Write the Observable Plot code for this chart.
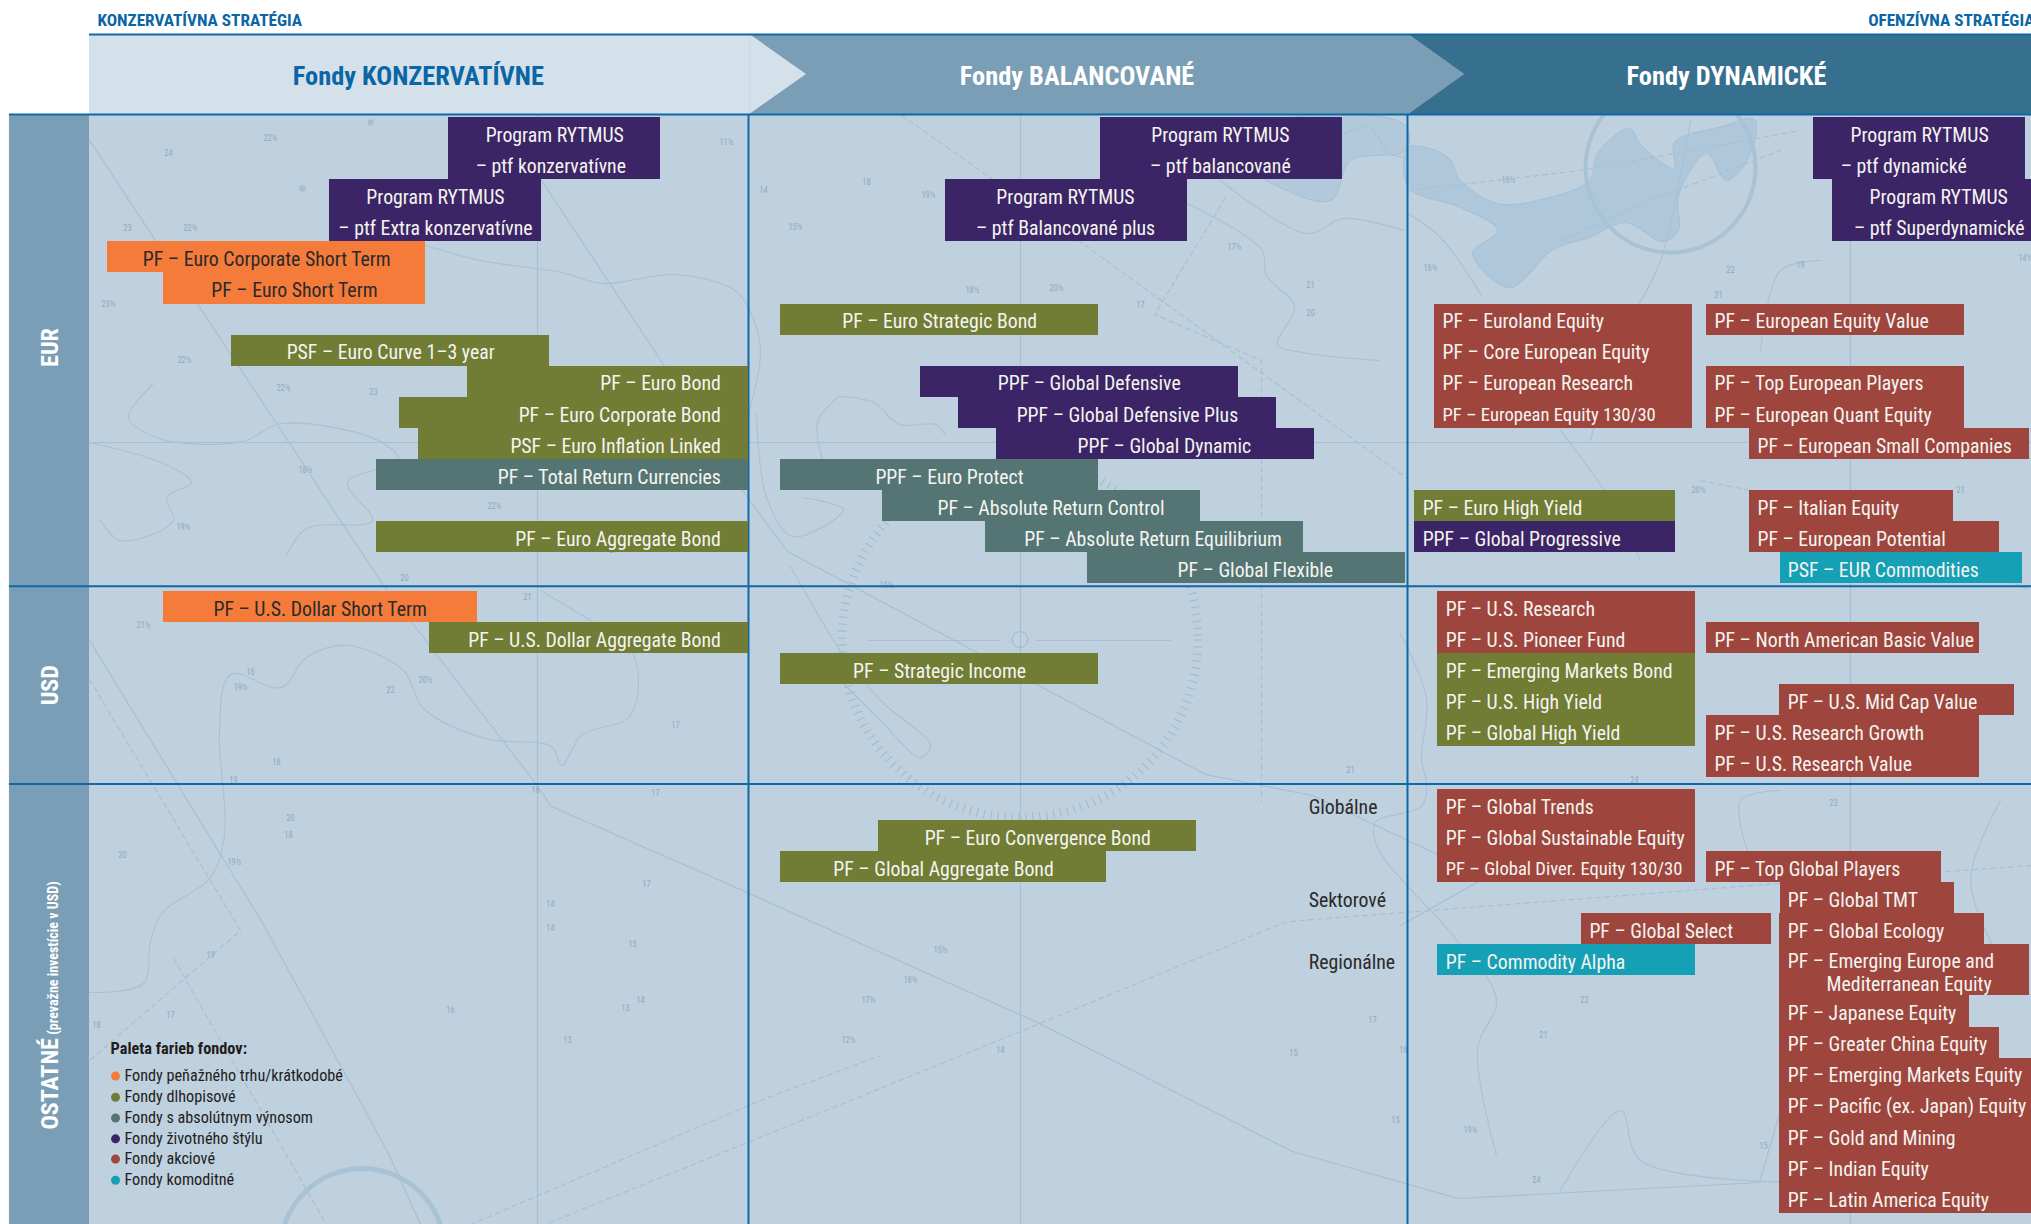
<!DOCTYPE html>
<html lang="sk">
<head>
<meta charset="utf-8">
<title>Fondy</title>
<script src="https://cdn.jsdelivr.net/npm/d3@7"></script>
<script src="https://cdn.jsdelivr.net/npm/@observablehq/plot@0.6"></script>
<style>
html,body{margin:0;padding:0;background:#fff;overflow:hidden}
svg{display:block}
</style>
</head>
<body>
<div id="chart"></div>
<script>
// Fund types and palette
const fundTypes = ["Fondy peňažného trhu/krátkodobé","Fondy dlhopisové","Fondy s absolútnym výnosom","Fondy životného štýlu","Fondy akciové","Fondy komoditné"];
const fundColors = ["#f47b3a","#717c35","#557574","#3c2566","#9e463e","#16a0b5"];
const [MM,BD,AR,LS,EQ,CO] = fundTypes;

// Risk axis: 0-100 conservative, 100-200 balanced, 200-300 dynamic.
// Bars: [type, from, to, first row, rows]
const eurBars = [
 [LS,54.5,86.6,0,2],[LS,36.4,68.6,2,2],[MM,2.7,51.0,4,1],[MM,11.2,51.0,5,1],
 [BD,21.5,69.8,7,1],[BD,57.4,100,8,1],[BD,47.0,100,9,1],[BD,49.9,100,10,1],[AR,43.6,100,11,1],[BD,43.6,100,13,1],
 [LS,153.4,190.1,0,2],[LS,129.9,166.6,2,2],[BD,104.9,153.1,6,1],[LS,126.1,174.4,8,1],[LS,131.9,180.1,9,1],[LS,137.6,185.9,10,1],
 [AR,104.9,153.1,11,1],[AR,120.3,168.6,12,1],[AR,136.0,184.2,13,1],[AR,151.4,199.7,14,1],
 [LS,261.6,293.8,0,2],[LS,264.5,294.7,2,2],[EQ,204.1,243.3,6,4],[EQ,245.4,284.5,6,1],[EQ,245.4,284.5,8,2],[EQ,251.9,294.4,10,1],
 [BD,201.1,240.7,12,1],[LS,201.1,240.7,13,1],[EQ,251.9,282.9,12,1],[EQ,251.9,289.8,13,1],[CO,256.6,293.3,14,1]
];
const usdBars = [
 [MM,11.2,58.9,0,1],[BD,51.6,100,1,1],[BD,104.9,153.1,2,1],
 [EQ,204.6,243.7,0,2],[BD,204.6,243.7,2,3],[EQ,245.4,286.8,1,1],[EQ,256.4,292.1,3,1],[EQ,245.4,286.8,4,2]
];
const otherBars = [
 [BD,119.7,168.0,1,1],[BD,104.9,154.3,2,1],
 [EQ,204.6,243.7,0,3],[EQ,245.4,281.0,2,1],[EQ,256.6,283.0,3,1],[EQ,256.4,287.6,4,1],[EQ,226.4,255.2,4,1],[CO,204.6,243.7,5,1],
 [EQ,256.4,294.4,5,1.65],[EQ,256.4,285.3,6.65,1],[EQ,256.4,289.8,7.65,1],[EQ,256.4,294.7,8.65,5]
];
// Labels: [text, anchor position, row (centre), alignment, dark?]
const eurLabels = [
 ["Program RYTMUS",70.6,.5,"middle"],["– ptf konzervatívne",70,1.5,"middle"],
 ["Program RYTMUS",52.5,2.5,"middle"],["– ptf Extra konzervatívne",52.5,3.5,"middle"],
 ["PF – Euro Corporate Short Term",26.9,4.5,"middle",1],["PF – Euro Short Term",31.1,5.5,"middle",1],
 ["PSF – Euro Curve 1–3 year",45.7,7.5,"middle"],["PF – Euro Bond",95.8,8.5,"end"],["PF – Euro Corporate Bond",95.8,9.5,"end"],
 ["PSF – Euro Inflation Linked",95.8,10.5,"end"],["PF – Total Return Currencies",95.8,11.5,"end"],["PF – Euro Aggregate Bond",95.8,13.5,"end"],
 ["Program RYTMUS",171.6,.5,"middle"],["– ptf balancované",171.6,1.5,"middle"],
 ["Program RYTMUS",148.1,2.5,"middle"],["– ptf Balancované plus",148.1,3.5,"middle"],
 ["PF – Euro Strategic Bond",129,6.5,"middle"],["PPF – Global Defensive",151.7,8.5,"middle"],["PPF – Global Defensive Plus",157.5,9.5,"middle"],
 ["PPF – Global Dynamic",163.1,10.5,"middle"],["PPF – Euro Protect",130.5,11.5,"middle"],["PF – Absolute Return Control",145.9,12.5,"middle"],
 ["PF – Absolute Return Equilibrium",161.4,13.5,"middle"],["PF – Global Flexible",176.9,14.5,"middle"],
 ["Program RYTMUS",277.7,.5,"middle"],["– ptf dynamické",275.3,1.5,"middle"],["Program RYTMUS",280.6,2.5,"middle"],["– ptf Superdynamické",280.7,3.5,"middle"],
 ["PF – Euroland Equity",205.3,6.5,"start"],["PF – Core European Equity",205.3,7.5,"start"],["PF – European Research",205.3,8.5,"start"],["PF – European Equity 130/30",205.3,9.5,"start",0,18.6],
 ["PF – European Equity Value",246.6,6.5,"start"],["PF – Top European Players",246.6,8.5,"start"],["PF – European Quant Equity",246.6,9.5,"start"],
 ["PF – European Small Companies",253.1,10.5,"start"],["PF – Euro High Yield",202.3,12.5,"start"],["PPF – Global Progressive",202.3,13.5,"start"],
 ["PF – Italian Equity",253.1,12.5,"start"],["PF – European Potential",253.1,13.5,"start"],["PSF – EUR Commodities",257.7,14.5,"start"]
];
const usdLabels = [
 ["PF – U.S. Dollar Short Term",35,.5,"middle",1],["PF – U.S. Dollar Aggregate Bond",95.8,1.5,"end"],["PF – Strategic Income",129,2.5,"middle"],
 ["PF – U.S. Research",205.8,.5,"start"],["PF – U.S. Pioneer Fund",205.8,1.5,"start"],["PF – Emerging Markets Bond",205.8,2.5,"start"],["PF – U.S. High Yield",205.8,3.5,"start"],["PF – Global High Yield",205.8,4.5,"start"],
 ["PF – North American Basic Value",246.6,1.5,"start"],["PF – U.S. Mid Cap Value",257.7,3.5,"start"],["PF – U.S. Research Growth",246.6,4.5,"start"],["PF – U.S. Research Value",246.6,5.5,"start"]
];
const otherLabels = [
 ["PF – Euro Convergence Bond",143.9,1.5,"middle"],["PF – Global Aggregate Bond",129.6,2.5,"middle"],
 ["PF – Global Trends",205.8,.5,"start"],["PF – Global Sustainable Equity",205.8,1.5,"start"],["PF – Global Diver. Equity 130/30",205.8,2.5,"start",0,18.6],["PF – Commodity Alpha",205.8,5.5,"start"],
 ["PF – Top Global Players",246.6,2.5,"start"],["PF – Global Select",227.6,4.5,"start"],
 ["PF – Global TMT",257.7,3.5,"start"],["PF – Global Ecology",257.7,4.5,"start"],["PF – Emerging Europe and",257.7,5.48,"start"],["Mediterranean Equity",263.6,6.2,"start"],
 ["PF – Japanese Equity",257.7,7.15,"start"],["PF – Greater China Equity",257.7,8.15,"start"],["PF – Emerging Markets Equity",257.7,9.15,"start"],["PF – Pacific (ex. Japan) Equity",257.7,10.15,"start"],
 ["PF – Gold and Mining",257.7,11.15,"start"],["PF – Indian Equity",257.7,12.15,"start"],["PF – Latin America Equity",257.7,13.15,"start"]
];
const regionRows = [["EUR",0],["USD",15.25],["OTHER",21.62]];
const regionStart = Object.fromEntries(regionRows);
const regionNames = [["EUR",7.4],["USD",18.27]];
const subLabels = [["Globálne",22.2],["Sektorové",25.2],["Regionálne",27.2]];
const columnHeads = [["Fondy KONZERVATÍVNE",49.9,"#0b66a5"],["Fondy BALANCOVANÉ",149.85,"#ffffff"],["Fondy DYNAMICKÉ",248.4,"#ffffff"]];
const legendTitle = "Paleta farieb fondov:";
const legendRows = [30.85,31.53,32.2,32.87,33.52,34.2];

// Base-map details (picture coordinates, converted to chart units for the scales)
const shallows = [[1408,147],[1448,157],[1460,180],[1497,203],[1541,199],[1589,180],[1597,153],[1629,128],[1641,145],[1674,168],[1674,142],[1722,126],[1754,119],[1750,153],[1726,180],[1706,153],[1678,195],[1678,230],[1662,241],[1625,222],[1589,237],[1553,249],[1509,287],[1472,253],[1497,230],[1460,207],[1408,187]];
const shallows2 = [[1266,180],[1330,200],[1350,160],[1405,150],[1405,125],[1290,118],[1240,160]];
const routes = [
 [[89,140],[383,585],[536,784],[551,806],[724,882],[1037,1022],[1292,1151],[1458,1198],[1759,1182],[1780,1110]],
 [[541,180],[663,364],[747,497],[787,551],[1205,774],[1312,795],[1437,854]],
 [[89,640],[263,924],[388,1153],[420,1224]],
 [[1554,790],[1480,880],[1400,925]],
 [[537,114],[537,1224]],[[1020,114],[1020,1224]],[[89,442],[2031,442]],[[1850,114],[1850,1224]],
 [[868,640],[1000,640]],[[1035,640],[1170,640]]
];
const dashed = [
 [[2031,865],[1766,884],[1300,920],[1284,922],[1037,1024],[700,1161],[520,1234]],
 [[89,679],[240,930],[89,1060]],[[173,958],[326,1224]],
 [[901,115],[991,178],[1085,245],[1407,478]],[[1225,197],[1154,314],[1261,360],[1261,801]],
 [[1408,190],[1580,170],[1800,130]],[[1700,480],[1850,510],[2031,590]],[[1560,240],[1650,200],[1780,150]],[[470,1224],[760,1100],[880,1055]]
];
const coasts = [
 [[425,245],[480,260],[561,272],[602,283],[673,274],[730,287],[745,302],[760,350],[740,440]],
 [[153,383],[128,417],[153,436],[204,444],[245,440],[281,423],[378,440],[398,459],[347,482],[372,520],[306,528],[286,555]],
 [[89,442],[163,463],[191,482],[166,497],[173,520],[120,540],[100,520]],
 [[89,992],[143,983],[150,941],[163,911],[209,878],[224,835],[219,729],[230,674],[281,687],[306,657],[347,645],[403,670],[423,708],[485,738],[551,746],[561,765],[582,734],[628,717],[638,679],[628,645],[590,620],[540,590]],
 [[790,566],[840,650],[880,700],[930,745],[920,757],[880,720],[840,680]],
 [[1400,633],[1426,699],[1421,757],[1426,785],[1421,806],[1375,822],[1377,847],[1454,937],[1496,999],[1477,1048],[1496,1155]],
 [[1409,214],[1440,237],[1481,295]],
 [[1187,203],[1261,249],[1266,275],[1294,306],[1277,344],[1302,352],[1379,360]],
 [[1220,180],[1307,233],[1343,218],[1404,230]],
 [[1343,134],[1368,126],[1389,153],[1407,157]],
 [[756,413],[766,497],[792,536],[843,509],[802,497]],
 [[838,396],[817,421],[822,459]],[[838,396],[873,402],[899,424],[935,424],[945,435]],
 [[1690,120],[1660,260],[1620,340],[1590,440]],
 [[1780,790],[1740,800],[1750,860]],[[2000,800],[1970,880],[2000,960]],
 [[1820,260],[1780,270],[1760,350]],
 [[1800,1182],[1640,1160],[1620,1110],[1560,1190]],
 [[1560,430],[1610,500],[1640,560]]
];
const rings = [[1670,167,85,4],[362,1250,82,5]];
const blobs = [[302,188,7],[370,122,6]];
const soundings = [
 ["22½",270,138],["24",168,153],["23",127,228],["22½",190,228],["23½",108,304],["22½",184,360],["22½",283,388],["23",373,392],["19½",393,463],["18½",305,470],["22½",494,506],["21",613,550],["19½",183,527],["20",404,578],
 ["21½",143,625],["22",390,690],["20½",425,680],["21",527,597],["19½",240,687],["18",288,835],["19½",234,862],["16",535,790],["14",640,1000],["17",646,884],["13",567,1040],["12½",848,1040],
 ["11½",726,142],["14",763,190],["15½",795,227],["18",866,182],["19½",928,195],["18½",972,290],["20½",1056,288],["17",1140,305],["20",1310,313],["17½",1234,247],["21",1310,285],["16½",1430,268],
 ["21",1718,295],["19",1800,265],["14½",2025,258],["22",1730,270],["16½",1508,180],["20½",1698,490],["21",1960,490],["18½",1386,580],
 ["16½",886,585],["21",1350,770],["23",1833,803],["24",1634,780],["21",1543,1035],["22",1584,1000],["17",1372,1020],["15",1395,1120],["19½",1470,1130],["24",1536,1180],["15",1763,1146],["18½",910,980],["15½",940,950],["17½",868,1000],["14",1000,1050],["15",1293,1053],["16",1403,1050],
 ["20",290,818],["18",276,762],["16",250,672],["19",233,780],["17",655,793],["14",550,904],["17",675,725],["15",632,944],["13",625,1008],["14",550,928],["16",450,1010],["17",170,1015],["19",210,955],["20",122,855],["18",96,1025]
];
const SX = p => (p - 89) / 6.59, SY = p => (p - 117.1) / 31.07;
const toChart = (lists) => lists.flatMap((arr, i) => arr.map(([x, y]) => ({x: SX(x), y: SY(y), i})));

const bars = [...eurBars.map(b => [b, "EUR"]), ...usdBars.map(b => [b, "USD"]), ...otherBars.map(b => [b, "OTHER"])]
  .map(([[type, from, to, row, rows], reg]) => ({type, from, to, y1: regionStart[reg] + row, y2: regionStart[reg] + row + rows}));
const labels = [...eurLabels.map(l => [l, "EUR"]), ...usdLabels.map(l => [l, "USD"]), ...otherLabels.map(l => [l, "OTHER"])]
  .map(([[text, x, row, align, dark, size], reg]) => ({text, x, y: regionStart[reg] + row, align, dark, size: size || 19.8}));

const NARROW = '"Liberation Sans Narrow","Arial Narrow","Roboto Condensed",sans-serif';
const mapInk = "#a6bfd2";
const labelMark = align => Plot.text(labels.filter(d => d.align === align), {
  x: "x", y: "y", text: "text", textAnchor: align, lineAnchor: "middle", dy: 2.4,
  fontSize: d => d.size, fill: d => d.dark ? "#2a2a2a" : "#f4f4f0"
});

const svg = Plot.plot({
  width: 2031, height: 1224, margin: 0,
  style: {fontFamily: NARROW, background: "#fff"},
  x: {domain: [-13.505, 294.69], range: [0, 2031], axis: null},
  y: {domain: [-3.769, 35.626], range: [0, 1224], axis: null},
  color: {domain: fundTypes, range: fundColors},
  marks: [
    // sheet background
    Plot.rect([{}], {x1: 0, x2: 294.69, y1: -0.1, y2: 35.626, fill: "#bfd0de"}),
    // base map
    Plot.line(toChart([shallows]), {x: "x", y: "y", fill: "#afc7da", stroke: mapInk, strokeWidth: 1, curve: "catmull-rom-closed"}),
    Plot.line(toChart([shallows2]), {x: "x", y: "y", fill: "#b2c9db", stroke: mapInk, strokeWidth: 1, curve: "catmull-rom-closed"}),
    Plot.line(toChart(routes), {x: "x", y: "y", z: "i", stroke: mapInk, strokeWidth: 1.1}),
    Plot.line(toChart(dashed), {x: "x", y: "y", z: "i", stroke: mapInk, strokeWidth: 1.1, strokeDasharray: "5 4"}),
    Plot.line(toChart(coasts), {x: "x", y: "y", z: "i", stroke: "#a9c1d4", strokeWidth: 1.1, curve: "catmull-rom"}),
    ...rings.map(([x, y, r, w]) => Plot.dot([{x: SX(x), y: SY(y)}], {x: "x", y: "y", r, stroke: "#a9c3d6", strokeWidth: w, fill: "none"})),
    Plot.dot(blobs.map(([x, y, r]) => ({x: SX(x), y: SY(y), r})), {x: "x", y: "y", r: d => d.r, fill: "#a4bed2", stroke: null}),
    Plot.dot([{x: 141.2, y: 16.8}], {x: "x", y: "y", r: 178, fill: "none", stroke: "#9fb9cd", strokeWidth: 9, strokeDasharray: "1 6"}),
    Plot.dot([{x: 141.2, y: 16.8}], {x: "x", y: "y", r: 8, fill: "none", stroke: "#9fb9cd", strokeWidth: 1}),
    Plot.text(soundings, {x: d => SX(d[1]), y: d => SY(d[2]), text: d => d[0], fontSize: 8.5, fill: "#8dabc2"}),
    // chevron header
    Plot.rect([{}], {x1: 200.2, x2: 294.69, y1: -2.675, y2: -0.1, fill: "#37708f"}),
    Plot.rect([{}], {x1: 100.2, x2: 200.2, y1: -2.675, y2: -0.1, fill: "#7a9eb5"}),
    Plot.areaY([{x: 200.2, y1: -2.675, y2: -0.1}, {x: 208.7, y1: -1.39, y2: -1.39}], {x: "x", y1: "y1", y2: "y2", fill: "#7a9eb5"}),
    Plot.rect([{}], {x1: 0, x2: 100.2, y1: -2.675, y2: -0.1, fill: "#d5e1ea"}),
    Plot.areaY([{x: 100.2, y1: -2.675, y2: -0.1}, {x: 108.8, y1: -1.39, y2: -1.39}], {x: "x", y1: "y1", y2: "y2", fill: "#d5e1ea"}),
    // region band
    Plot.rect([{}], {x1: -12.15, x2: 0, y1: -0.1, y2: 35.626, fill: "#7a9eb5"}),
    // grid
    Plot.ruleY([-2.675], {x1: 0, x2: 294.69, stroke: "#0e68a8", strokeWidth: 2}),
    Plot.ruleY([-0.1, 15.08, 21.45], {x1: -12.15, x2: 294.69, stroke: "#0e68a8", strokeWidth: 2}),
    Plot.ruleX([100, 200], {y1: -0.1, y2: 35.626, stroke: "#0e68a8", strokeWidth: 2}),
    // fund bars
    Plot.rect(bars, {x1: "from", x2: "to", y1: "y1", y2: "y2", fill: "type", shapeRendering: "crispEdges"}),
    labelMark("start"), labelMark("middle"), labelMark("end"),
    // column heads and strategy labels
    Plot.text(columnHeads, {x: d => d[1], y: -1.31, text: d => d[0], fill: d => d[2], fontSize: 26.4, fontWeight: 700}),
    Plot.text(["KONZERVATÍVNA STRATÉGIA"], {x: 1.2, y: -3.14, text: d => d, textAnchor: "start", fontSize: 17.2, fontWeight: 700, fill: "#0b66a5"}),
    Plot.text(["OFENZÍVNA STRATÉGIA"], {x: 269.9, y: -3.14, text: d => d, textAnchor: "start", fontSize: 17.2, fontWeight: 700, fill: "#0b66a5"}),
    // region labels
    Plot.text(regionNames, {x: -5.9, y: d => d[1], text: d => d[0], rotate: -90, fontSize: 24, fontWeight: 700, fill: "#fff"}),
    Plot.text(["OSTATNÉ"], {x: -5.9, y: 31.1, text: d => d, rotate: -90, fontSize: 24, fontWeight: 700, fill: "#fff"}),
    Plot.text(["(prevažne investície v USD)"], {x: -5.4, y: 27.05, text: d => d, rotate: -90, fontSize: 14, fontWeight: 700, fill: "#fff"}),
    // sub-region labels
    Plot.text(subLabels, {x: 185, y: d => d[1], text: d => d[0], textAnchor: "start", fontSize: 19.8, fill: "#2a2a2a"}),
    // palette legend
    Plot.text([legendTitle], {x: 3.2, y: 29.96, text: d => d, textAnchor: "start", fontSize: 16.3, fontWeight: 700, fill: "#1e1e1e"}),
    Plot.dot(fundTypes, {x: 3.95, y: (d, i) => legendRows[i], r: 4.5, fill: d => d, stroke: null}),
    Plot.text(fundTypes, {x: 5.3, y: (d, i) => legendRows[i], text: d => d, textAnchor: "start", fontSize: 16.2, fill: "#1e1e1e"})
  ]
});
document.getElementById("chart").appendChild(svg);
</script>
</body>
</html>
